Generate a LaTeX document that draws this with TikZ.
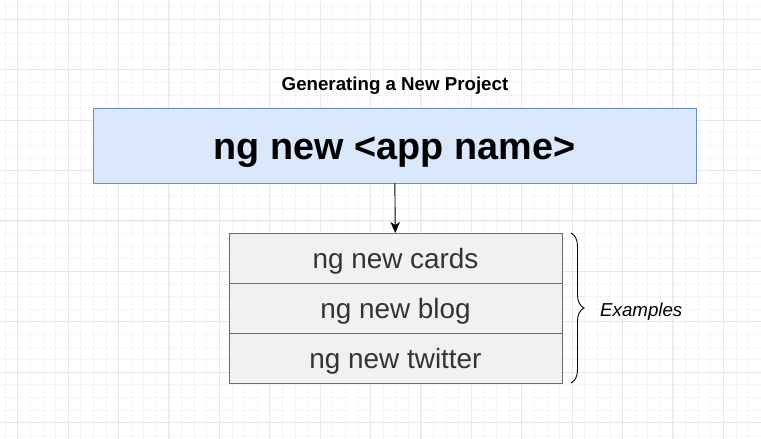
\documentclass[tikz,border=0pt]{standalone}
\usepackage{fontspec}
\setmainfont{Liberation Sans}
\usepackage{tikz}
\usetikzlibrary{arrows.meta, positioning, calc, decorations.pathreplacing}
\definecolor{ngBlue}{HTML}{DAE8FC}
\definecolor{ngBlueLine}{HTML}{6C8EBF}
\definecolor{ngGray}{HTML}{F1F1F1}
\definecolor{ngGrayLine}{HTML}{6D6D6D}
\definecolor{ngText}{HTML}{333333}
\definecolor{gridMinor}{HTML}{F5F5F5}
\definecolor{gridMajor}{HTML}{E8E8E8}

\begin{document}
\begin{tikzpicture}[x=1pt, y=-1pt,
    cmdbox/.style={draw=ngBlueLine, fill=ngBlue, line width=0.9pt, inner sep=0pt,
      minimum width=603pt, minimum height=75pt, text height=27.6pt, text depth=0pt,
      font=\bfseries\fontsize{37.8}{44}\selectfont},
    exbox/.style={draw=ngGrayLine, fill=ngGray, line width=0.9pt, inner sep=0pt,
      outer sep=0pt, minimum width=333pt, minimum height=50pt, text=ngText,
      text height=20.6pt, text depth=0pt, font=\fontsize{27.9}{33}\selectfont}]
  % tło i siatka
  \useasboundingbox (0,0) rectangle (761,439);
  \fill[white] (0,0) rectangle (761,439);
  \foreach \x in {5,17.6,...,761}{\draw[gridMinor, line width=0.6pt](\x,0)--(\x,439);}
  \foreach \y in {6.6,19.2,...,439}{\draw[gridMinor, line width=0.6pt](0,\y)--(761,\y);}
  \foreach \x in {17.5,67.9,...,761}{\draw[gridMajor, line width=0.7pt](\x,0)--(\x,439);}
  \foreach \y in {19.2,69.6,...,439}{\draw[gridMajor, line width=0.7pt](0,\y)--(761,\y);}
  % tytuł i polecenie
  \node[inner sep=0pt, text height=12pt, text depth=0pt,
    font=\bfseries\fontsize{18.7}{22}\selectfont] (title) at (395,84) {Generating a New Project};
  \node[cmdbox] (cmd) at (394.5,145.5) {ng new <app name>};
  % przykłady
  \node[exbox] (ex1) at (395.5,258) {ng new cards};
  \node[exbox, below=0pt of ex1] (ex2) {ng new blog};
  \node[exbox, below=0pt of ex2] (ex3) {ng new twitter};
  \draw[-{Stealth[length=11pt, width=9.5pt, inset=3pt]}, line width=0.9pt] (cmd) -- (ex1);
  % klamra
  \coordinate (braceTop) at ([xshift=9pt]ex1.north east);
  \coordinate (braceBot) at ([xshift=9pt]ex3.south east);
  \draw[decorate, decoration={brace, amplitude=13pt}, line width=0.9pt] (braceTop) -- (braceBot);
  \node[anchor=west, inner sep=0pt, text height=16pt, text depth=0pt,
    font=\itshape\fontsize{18.7}{22}\selectfont] (exlabel)
    at ([xshift=38pt]ex2.east) {Examples};
\end{tikzpicture}
\end{document}
